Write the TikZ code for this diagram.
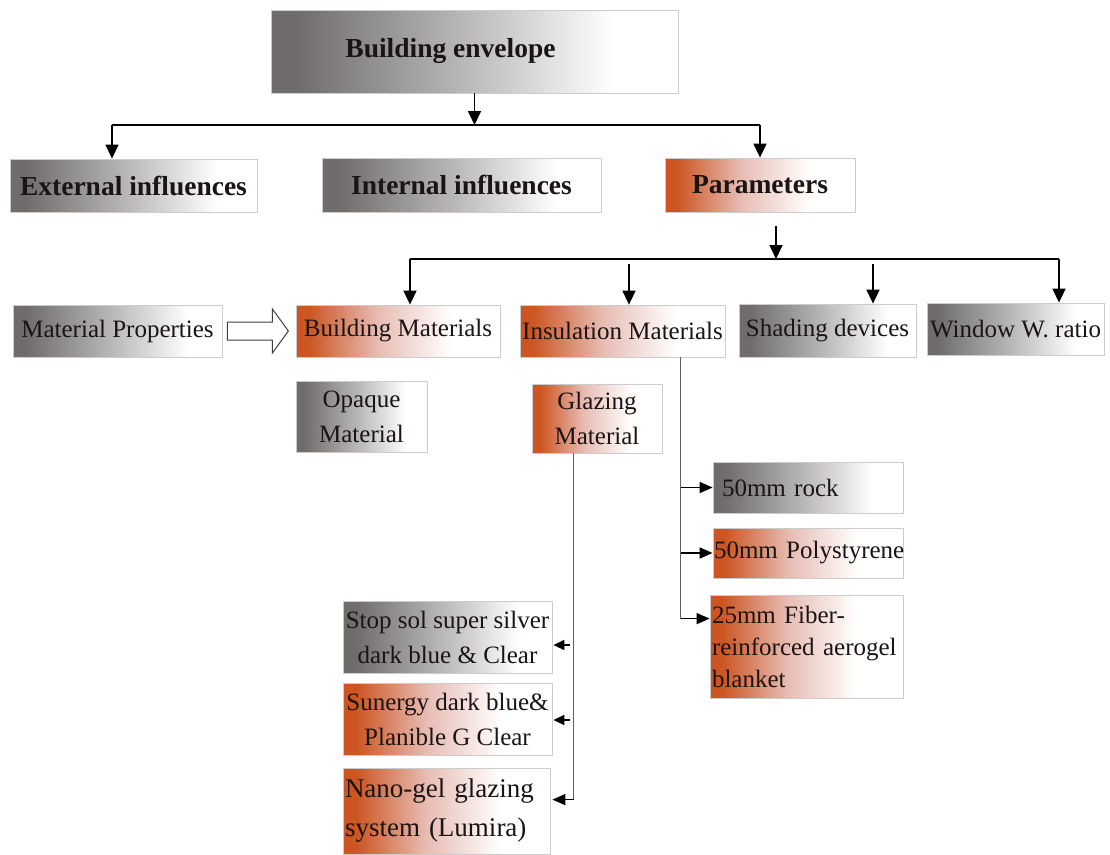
\documentclass[tikz,border=0pt]{standalone}
\usepackage{fontspec}
\setmainfont{Liberation Serif}
\usetikzlibrary{arrows.meta,calc}
\definecolor{gdark}{HTML}{706C6C}
\definecolor{gmid}{HTML}{BEBCBC}
\definecolor{odark}{HTML}{CC5521}
\definecolor{opink}{HTML}{E7BCB3}
\definecolor{txt}{HTML}{1A1414}
\pgfdeclarehorizontalshading{greysh}{100bp}{color(0bp)=(gdark); color(25bp)=(gdark); color(28bp)=(gdark); color(50bp)=(gmid); color(67bp)=(white); color(100bp)=(white)}
\pgfdeclarehorizontalshading{orsh}{100bp}{color(0bp)=(odark); color(25bp)=(odark); color(28bp)=(odark); color(45bp)=(opink); color(63bp)=(white); color(100bp)=(white)}
\tikzset{
  box/.style={draw=black!20, line width=0.8pt, inner sep=0pt, text=txt,
    font=\fontsize{25pt}{35pt}\selectfont, align=center},
  gbox/.style={box, shade, shading=greysh},
  obox/.style={box, shade, shading=orsh},
  big/.style={font=\bfseries\fontsize{27.5pt}{33pt}\selectfont},
  ln/.style={line width=1.6pt, black},
  arr/.style={ln, -{Triangle[length=14pt,width=13pt]}},
  gl/.style={line width=1.4pt, black!62},
  garr/.style={line width=1.5pt, black, -{Triangle[length=13pt,width=11pt]}},
  sarr/.style={line width=1.5pt, black, -{Triangle[length=11pt,width=10pt]}},
  hollow/.style={draw=black!75, line width=1pt, fill=white, line join=miter}
}
\begin{document}
\begin{tikzpicture}[x=1pt,y=-1pt]
\fill[white] (0,0) rectangle (1110,854);
\useasboundingbox (0,0) rectangle (1110,854);

% level 1
\node[gbox, big, minimum width=407pt, minimum height=83pt] (env) at (474.5,51.5)
  {\raisebox{8pt}{Building envelope}\hspace*{48pt}};

% level 2
\node[gbox, big, minimum width=247pt, minimum height=53pt] (ext) at (133.5,185.5) {External influences};
\node[gbox, big, minimum width=279pt, minimum height=54pt] (int) at (461.5,185) {Internal influences};
\node[obox, big, minimum width=190pt, minimum height=54pt] (par) at (760,185) {Parameters};

% level 3
\node[gbox, minimum width=209pt, minimum height=52pt] (mp) at (117.5,331) {Material Properties};
\node[obox, minimum width=204pt, minimum height=52pt] (bm) at (398,331) {Building Materials};
\node[obox, minimum width=205pt, minimum height=52pt] (im) at (622.5,331) {Insulation Materials};
\node[gbox, minimum width=177pt, minimum height=53pt] (sd) at (827.5,330.5) {Shading devices};
\node[gbox, minimum width=177pt, minimum height=52pt] (ww) at (1015.5,329) {Window W. ratio};

% level 4
\node[gbox, minimum width=131pt, minimum height=71pt] (om) at (361.5,416.5) {Opaque\\Material};
\node[obox, minimum width=130pt, minimum height=69pt] (gm) at (597,418.5) {Glazing\\Material};

% insulation options
\node[gbox, minimum width=190pt, minimum height=51pt, text width=172pt, align=left] (rock) at (808,487.5) {50mm rock};
\node[obox, minimum width=190pt, minimum height=50pt, text width=188pt, align=left] (poly) at (808,553) {\mbox{50mm Polystyrene}};
\node[obox, minimum width=193pt, minimum height=103pt, text width=189pt, align=left,
  font=\fontsize{25pt}{32pt}\selectfont] (fib) at (806.5,646.5) {25mm Fiber-\\reinforced aerogel\\blanket};

% glazing options
\node[gbox, minimum width=209pt, minimum height=72pt] (ss) at (447.5,637) {Stop sol super silver\\dark blue \& Clear};
\node[obox, minimum width=209pt, minimum height=72pt] (su) at (447.5,719) {Sunergy dark blue\&\\Planible G Clear};
\node[obox, minimum width=207pt, minimum height=86pt, text width=203pt, align=left,
  font=\fontsize{27pt}{39pt}\selectfont] (nano) at (446.5,811) {Nano-gel glazing\\system (Lumira)};

% connectors level 1 -> 2
\coordinate (j1) at (474.5,125);
\coordinate (hL) at (112,125);
\coordinate (hR) at (760,125);
\draw[arr] (env.south) -- (j1);
\draw[ln] (hL) -- (hR);
\draw[arr] (hL) -- (hL |- ext.north);
\draw[arr] (hR) -- (par.north);

% connectors parameters -> level 3
\coordinate (p0) at ($(par.south)+(16,14)$);
\coordinate (j2) at (776,259);
\coordinate (h2L) at (410,259);
\coordinate (h2R) at (1059,259);
\coordinate (a3) at (629,264);
\coordinate (a4) at (873,264);
\draw[arr] (p0) -- (j2);
\draw[ln] (h2L) -- (h2R);
\draw[arr] (h2L) -- (h2L |- bm.north);
\draw[arr] (h2R) -- (h2R |- ww.north);
\draw[arr] (a3) -- (a3 |- im.north);
\draw[arr] (a4) -- (a4 |- sd.north);

% hollow arrow material properties -> building materials
\draw[hollow] ($(mp.east)+(5,-9)$) -- ++(45,0) -- ++(0,-13) -- ++(16,22) -- ++(-16,22) -- ++(0,-13) -- ++(-45,0) -- cycle;

% insulation branch
\coordinate (iv) at ($(im.south west)+(161,0)$);
\coordinate (fibA) at ($(fib.north west)+(0,24)$);
\draw[gl] (iv) -- (iv |- fibA);
\draw[garr] (iv |- rock.west) -- (rock.west);
\draw[garr] (iv |- poly.west) -- (poly.west);
\draw[garr] (iv |- fibA) -- (fibA);

% glazing branch
\coordinate (gv) at ($(gm.south west)+(42,0)$);
\coordinate (nanoA) at ($(nano.north east)+(2,32)$);
\coordinate (ssA) at ($(ss.east)+(1,8)$);
\coordinate (suA) at ($(su.east)+(1,1)$);
\draw[gl] (gv) -- (gv |- nanoA);
\draw[garr] (gv |- nanoA) -- (nanoA);
\draw[sarr] ($(ssA)+(17,0)$) -- (ssA);
\draw[sarr] ($(suA)+(17,0)$) -- (suA);
\end{tikzpicture}
\end{document}
